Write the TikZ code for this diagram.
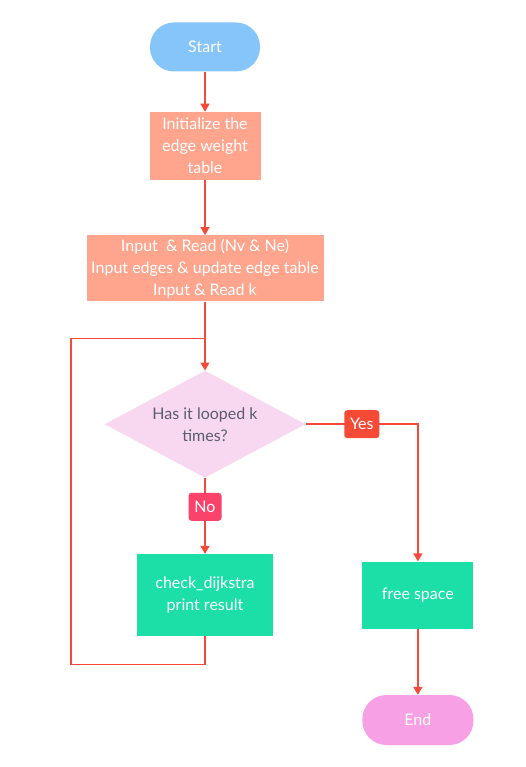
\documentclass[tikz,border=0pt]{standalone}
\usepackage{fontspec}
\setmainfont{Lato}
\usetikzlibrary{shapes.geometric, arrows.meta, positioning}
\definecolor{startblue}{HTML}{86C5FA}
\definecolor{salmon}{HTML}{FFA58D}
\definecolor{decpink}{HTML}{F8D7F1}
\definecolor{procgreen}{HTML}{1CDFA8}
\definecolor{endpink}{HTML}{F8A0E6}
\definecolor{linered}{HTML}{F5493B}
\definecolor{yesred}{HTML}{F44A36}
\definecolor{nopink}{HTML}{F9436B}
\definecolor{txtgray}{HTML}{5B5D6E}
\tikzset{
  terminal/.style={rectangle, rounded corners=24pt, align=center, text=white,
    minimum width=110pt, minimum height=49pt, font=\fontsize{16}{19}\selectfont, inner sep=0pt},
  box/.style={rectangle, align=center, text=white, fill=salmon,
    font=\fontsize{16}{22}\selectfont, inner sep=0pt},
  proc/.style={rectangle, align=center, text=white, fill=procgreen,
    font=\fontsize{16}{22}\selectfont, inner sep=0pt},
  dec/.style={diamond, fill=decpink, align=center, text=txtgray, aspect=1.88,
    minimum width=201pt, minimum height=107pt, inner sep=0pt,
    font=\fontsize{16}{22}\selectfont},
  tag/.style={rectangle, rounded corners=3pt, text=white, inner sep=0pt,
    minimum height=28pt, font=\fontsize{16}{19}\selectfont},
  flow/.style={linered, line width=1.5pt},
  line/.style={flow, -{Triangle[width=9pt,length=8pt]}}
}
\begin{document}
\begin{tikzpicture}
\useasboundingbox (0,0) rectangle (525pt,-767pt);

% ---- main column ----
\node[terminal, fill=startblue] (start) at (205pt,-47pt) {Start};
\node[box, below=40pt of start, minimum width=111pt, minimum height=68pt] (init) {Initialize the\\edge weight\\table};
\node[box, below=55pt of init, minimum width=237pt, minimum height=66pt] (input) {Input\ \ \& Read (Nv \& Ne)\\Input edges \& update edge table\\Input \& Read k};
\coordinate[below=37pt of input] (join);
\node[dec, below=69pt of input] (loop) {Has it looped k\\times?};
\node[proc, below=76pt of loop, minimum width=136pt, minimum height=82pt] (check) {check\_dijkstra\\print result};

% ---- right column ----
\node[proc, right=89pt of check, minimum width=111pt, minimum height=67pt] (free) {free space};
\node[terminal, fill=endpink, below=66pt of free, minimum width=111pt, minimum height=50pt] (end) {End};

% ---- loop back ----
\coordinate[below=28pt of check] (cb);
\coordinate[left=134pt of cb] (cl);

% ---- connections ----
\draw[line] (start) -- (init);
\draw[line] (init) -- (input);
\draw[flow] (input) -- (join);
\draw[line] (join) -- (loop);
\draw[line] (loop) -- node[pos=0.38, tag, fill=nopink, minimum width=33pt] {No} (check);
\draw[line] (loop.east) -| node[pos=0.25, tag, fill=yesred, minimum width=35pt] {Yes} (free.north);
\draw[line] (free) -- (end);
\draw[flow] (check.south) -- (cb) -- (cl) |- (join);

\end{tikzpicture}
\end{document}
